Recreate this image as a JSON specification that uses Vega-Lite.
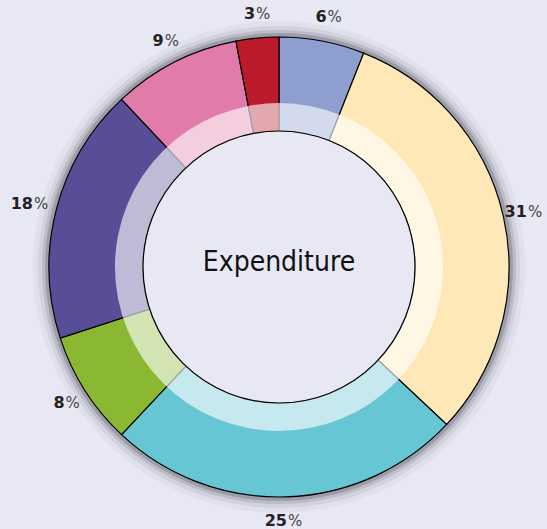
{
  "$schema": "https://vega.github.io/schema/vega-lite/v6.json",
  "width": 547,
  "height": 529,
  "autosize": {"type": "fit", "contains": "padding"},
  "padding": {"left": 11, "top": 5, "right": 0, "bottom": 0},
  "background": "#E7E8F4",
  "config": {"view": {"stroke": null}},
  "data": {"values": [
    {"item": "A", "value": 6, "label": "6", "order": 1},
    {"item": "B", "value": 31, "label": "31", "order": 2},
    {"item": "C", "value": 25, "label": "25", "order": 3},
    {"item": "D", "value": 8, "label": "8", "order": 4},
    {"item": "E", "value": 18, "label": "18", "order": 5},
    {"item": "F", "value": 9, "label": "9", "order": 6},
    {"item": "G", "value": 3, "label": "3", "order": 7}
  ]},
  "layer": [
    {
      "data": {"values": [{"k": 1}]},
      "mark": {"type": "arc", "radius": 246, "theta": 0, "theta2": 6.2832, "fill": "#000000", "opacity": 0.03},
      "encoding": {}
    },
    {
      "data": {"values": [{"k": 1}]},
      "mark": {"type": "arc", "radius": 241, "theta": 0, "theta2": 6.2832, "fill": "#000000", "opacity": 0.06},
      "encoding": {}
    },
    {
      "data": {"values": [{"k": 1}]},
      "mark": {"type": "arc", "radius": 237, "theta": 0, "theta2": 6.2832, "fill": "#000000", "opacity": 0.1},
      "encoding": {}
    },
    {
      "data": {"values": [{"k": 1}]},
      "mark": {"type": "arc", "radius": 234, "theta": 0, "theta2": 6.2832, "fill": "#000000", "opacity": 0.16},
      "encoding": {}
    },
    {
      "mark": {"type": "arc", "radius": 230, "radius2": 136, "stroke": "#000000", "strokeWidth": 1.2},
      "encoding": {
        "theta": {"field": "value", "type": "quantitative", "stack": true},
        "order": {"field": "order", "type": "quantitative"},
        "color": {
          "field": "item", "type": "nominal", "legend": null,
          "scale": {"domain": ["A", "B", "C", "D", "E", "F", "G"],
                    "range": ["#8E9FCF", "#FEE8B8", "#66C6D4", "#8AB833", "#584D97", "#E17BAA", "#BB1A2B"]}
        }
      }
    },
    {
      "data": {"values": [{"k": 1}]},
      "mark": {"type": "arc", "radius": 164, "radius2": 136, "theta": 0, "theta2": 6.2832, "fill": "#FFFFFF", "opacity": 0.62},
      "encoding": {}
    },
    {
      "data": {"values": [{"k": 1}]},
      "mark": {"type": "arc", "radius": 136, "theta": 0, "theta2": 6.2832, "fill": "#E7E8F4", "stroke": "#000000", "strokeWidth": 1.2},
      "encoding": {}
    },
    {
      "mark": {"type": "text", "radius": 254, "align": "right", "baseline": "middle", "fontSize": 16, "fontWeight": "bold", "font": "DejaVu Sans", "color": "#222222"},
      "encoding": {
        "theta": {"field": "value", "type": "quantitative", "stack": true},
        "order": {"field": "order", "type": "quantitative"},
        "text": {"field": "label", "type": "nominal"}
      }
    },
    {
      "mark": {"type": "text", "radius": 254, "align": "left", "baseline": "middle", "dx": 1, "fontSize": 15, "font": "DejaVu Sans", "color": "#444444"},
      "encoding": {
        "theta": {"field": "value", "type": "quantitative", "stack": true},
        "order": {"field": "order", "type": "quantitative"},
        "text": {"value": "%"}
      }
    },
    {
      "data": {"values": [{"title": "Expenditure"}]},
      "mark": {"type": "text", "align": "center", "baseline": "middle", "dy": -4, "fontSize": 28, "font": "DejaVu Sans Condensed, Roboto, sans-serif", "color": "#111111"},
      "encoding": {"text": {"field": "title", "type": "nominal"}}
    }
  ]
}
